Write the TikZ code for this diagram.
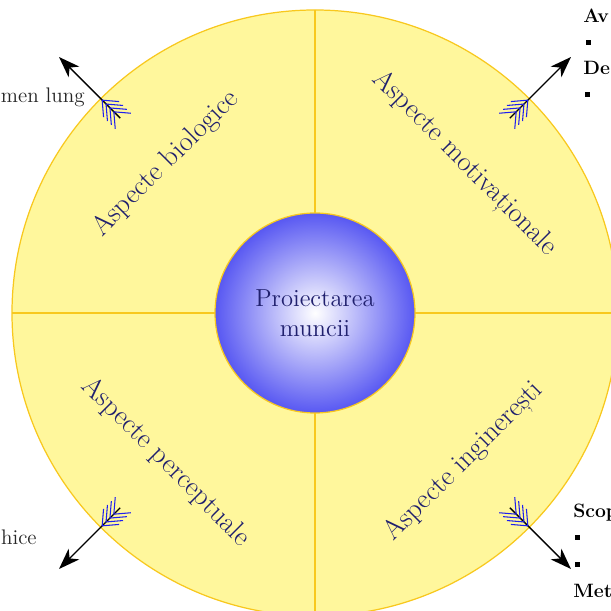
\documentclass[tikz,border=0pt]{standalone}
\usepackage{tikz}
\usetikzlibrary{arrows.meta}

\definecolor{discfill}{RGB}{255,247,156}
\definecolor{discline}{RGB}{248,200,30}
\definecolor{hubblue}{RGB}{88,88,242}
\definecolor{labelblue}{RGB}{32,32,110}
\definecolor{featherblue}{RGB}{30,30,240}

\tikzset{
	aspect/.style={text=labelblue,font=\fontsize{16}{19}\selectfont},
	side/.style={text=black!85,inner sep=0pt,font=\fontsize{12}{14}\selectfont},
	sidehead/.style={text=black,inner sep=0pt,font=\bfseries\fontsize{11}{13}\selectfont},
	bullet/.style={fill=black,inner sep=0pt,minimum size=0.1cm},
	shaft/.style={thick,-{Stealth[length=0.42cm,width=0.3cm,inset=0.12cm]}},
	feather/.style={draw=featherblue,line width=0.6pt}
}

\begin{document}
\begin{tikzpicture}
	\def\R{6.06}	%outer disc
	\def\r{2}	%hub
	\useasboundingbox (-6.30,-5.96) rectangle (5.92,6.26);

	%MAIN DISC AND QUADRANTS
	\draw[discline,line width=0.7pt,fill=discfill] (0,0) circle (\R);
	\draw[discline,line width=0.7pt] (0,\R)--(0,-\R);	\draw[discline,line width=0.7pt] (\R,0)--(-\R,0);

	%HUB
	\node[circle,draw=discline,line width=0.7pt,minimum size=2*\r cm,inner color=white,outer color=hubblue,
		text=labelblue,align=center,font=\fontsize{14}{17}\selectfont] (hub) at (0,0) {Proiectarea\\muncii};

	%ARROWS
	\foreach \a in {45,135,225,315}{
		\coordinate (tail\a) at (\a:\R-0.55);
		\coordinate (tip\a) at (\a:\R+1.18);
		\draw[shaft] (tail\a)--(tip\a);
		\begin{scope}[rotate=\a]
			\foreach \k in {0,1,2,3}{
				\draw[feather] (\R-0.3-\k*0.11,0.22)--(\R-0.04-\k*0.11,0)--(\R-0.3-\k*0.11,-0.22);
			}
		\end{scope}
	}

	%ASPECTS
	\node[aspect,rotate=45]  (bio) at (135:4.22) {Aspecte biologice};
	\node[aspect,rotate=-45] (mot) at (45:4.22)  {Aspecte motivaționale};
	\node[aspect,rotate=-45] (per) at (225:4.22) {Aspecte perceptuale};
	\node[aspect,rotate=45]  (ing) at (315:4.22) {Aspecte inginerești};

	%SIDE NOTES
	\node[side,anchor=base east] (lung) at (-4.60,4.20)  {men lung};
	\node[side,anchor=base east] (hice) at (-5.56,-4.62) {hice};
	%
	\node[sidehead,anchor=base west] (av) at (5.36,5.80) {Av};
	\node[bullet] (b1) at (5.46,5.40) {};
	\node[sidehead,anchor=base west] (de) at (5.36,4.76) {De};
	\node[bullet] (b2) at (5.44,4.36) {};
	%
	\node[sidehead,anchor=base west] (scop) at (5.16,-4.08) {Scop};
	\node[bullet] (b3) at (5.24,-4.48) {};
	\node[bullet] (b4) at (5.24,-5.02) {};
	\node[sidehead,anchor=base west] (met) at (5.16,-5.68) {Met};
\end{tikzpicture}
\end{document}
